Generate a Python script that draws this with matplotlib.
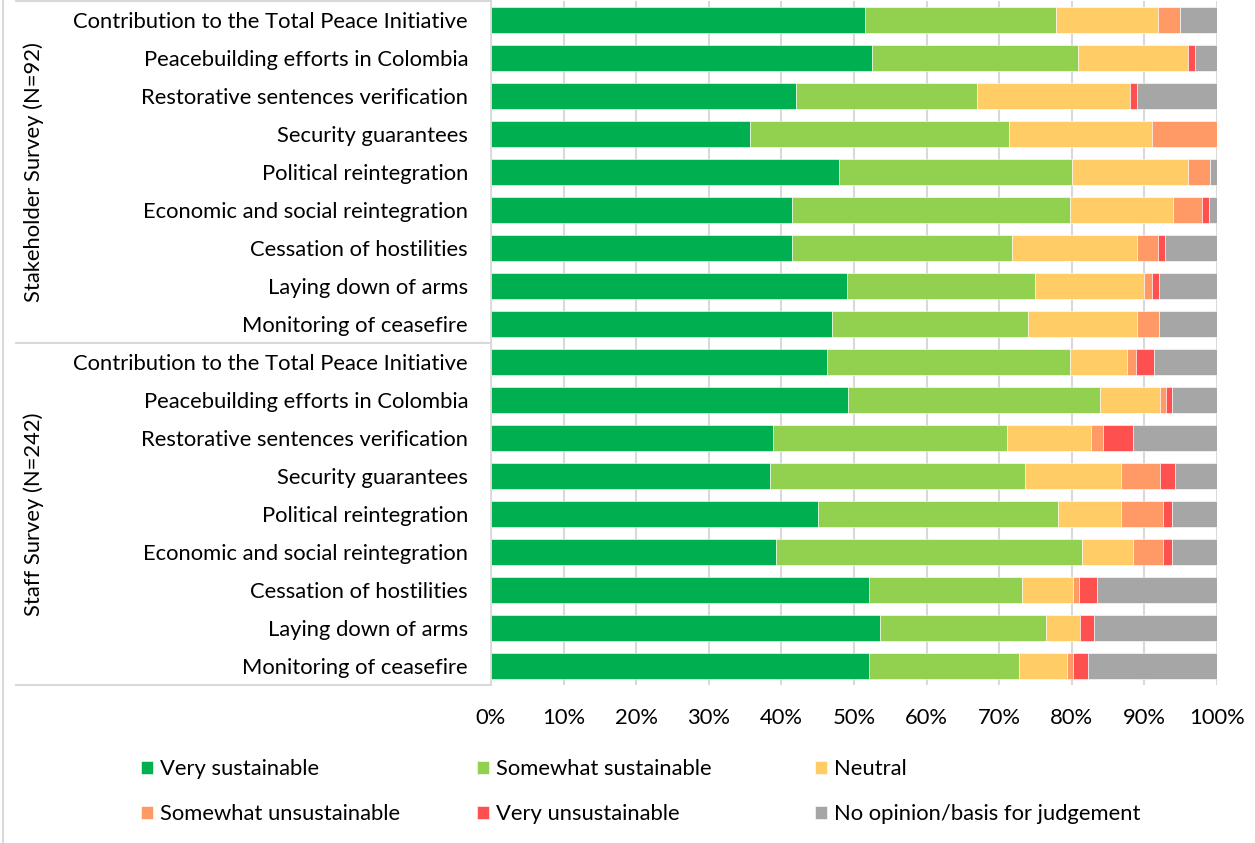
import matplotlib.pyplot as plt
import numpy as np
from matplotlib.lines import Line2D

plt.rcParams['font.family'] = ['Lato', 'DejaVu Sans']

# Categories (top to bottom within each group)
categories = [
    "Contribution to the Total Peace Initiative",
    "Peacebuilding efforts in Colombia",
    "Restorative sentences verification",
    "Security guarantees",
    "Political reintegration",
    "Economic and social reintegration",
    "Cessation of hostilities",
    "Laying down of arms",
    "Monitoring of ceasefire",
]
groups = ["Stakeholder Survey (N=92)", "Staff Survey (N=242)"]

levels = ["Very sustainable", "Somewhat sustainable", "Neutral",
          "Somewhat unsustainable", "Very unsustainable",
          "No opinion/basis for judgement"]
colors = ["#00B050", "#92D050", "#FFCC66", "#FF9966", "#FF5050", "#A6A6A6"]

# Stakeholder survey (%)
stake_very_sust = [51.5, 52.5, 42.0, 35.7, 48.0, 41.5, 41.5, 49.0, 47.0]
stake_smwt_sust = [26.3, 28.3, 25.0, 35.6, 32.0, 38.3, 30.3, 25.9, 27.0]
stake_neutral = [14.1, 15.2, 21.0, 19.8, 16.0, 14.1, 17.2, 15.1, 15.0]
stake_smwt_unsust = [3.0, 0.0, 0.0, 8.9, 3.0, 4.1, 2.9, 1.0, 3.0]
stake_very_unsust = [0.0, 1.0, 1.0, 0.0, 0.0, 0.9, 1.0, 1.0, 0.0]
stake_no_opinion = [5.1, 3.0, 11.0, 0.0, 1.0, 1.1, 7.1, 8.0, 8.0]

# Staff survey (%)
staff_very_sust = [46.3, 49.2, 38.8, 38.4, 45.0, 39.3, 52.1, 53.6, 52.1]
staff_smwt_sust = [33.5, 34.7, 32.3, 35.2, 33.1, 42.1, 21.0, 22.9, 20.6]
staff_neutral = [7.8, 8.2, 11.5, 13.2, 8.7, 7.0, 7.1, 4.6, 6.6]
staff_smwt_unsust = [1.2, 0.9, 1.7, 5.3, 5.8, 4.2, 0.8, 0.0, 0.9]
staff_very_unsust = [2.5, 0.8, 4.1, 2.1, 1.2, 1.2, 2.5, 2.0, 2.0]
staff_no_opinion = [8.7, 6.2, 11.6, 5.8, 6.2, 6.2, 16.5, 16.9, 17.8]

series = [
    stake_very_sust + staff_very_sust,
    stake_smwt_sust + staff_smwt_sust,
    stake_neutral + staff_neutral,
    stake_smwt_unsust + staff_smwt_unsust,
    stake_very_unsust + staff_very_unsust,
    stake_no_opinion + staff_no_opinion,
]

FS = 15.8

fig = plt.figure(figsize=(12.55, 8.43), dpi=100)
ax = fig.add_axes([491 / 1255, 1 - 685 / 843, 726 / 1255, 684 / 843])

y = np.arange(len(categories) * 2)
left = np.zeros(len(y))
bars = []
for vals, col, lab in zip(series, colors, levels):
    vals = np.array(vals)
    b = ax.barh(y, vals, left=left, height=0.66, color=col, label=lab,
                edgecolor="white", linewidth=0.4, zorder=3)
    bars.append(b)
    left += vals

ax.set_xlim(0, 100)
ax.set_ylim(17.5, -0.5)
ax.set_xticks(np.arange(0, 101, 10))
ax.set_xticklabels([f"{v}%" for v in range(0, 101, 10)], fontsize=FS)
ax.tick_params(axis="x", length=0, pad=16.5)
ax.set_yticks(y)
ax.set_yticklabels(categories * 2, fontsize=FS)
ax.tick_params(axis="y", length=0, pad=16.5)
ax.grid(axis="x", color="#D9D9D9", linewidth=1.5, zorder=0)
for s in ["top", "right", "bottom"]:
    ax.spines[s].set_visible(False)
ax.spines["left"].set_color("#D9D9D9")
ax.spines["left"].set_linewidth(1.2)

# group separators and group labels
tr = ax.get_yaxis_transform()
x0 = (16 - 491) / 726
for yy in [-0.5, 8.5, 17.5]:
    ax.add_line(Line2D([x0, 0], [yy, yy], transform=tr, color="#D9D9D9",
                       linewidth=1.5, clip_on=False))
for i, g in enumerate(groups):
    ax.text((34 - 491) / 726, 4 + 9 * i, g, transform=tr, rotation=90,
            ha="center", va="center", fontsize=FS)

# outer chart border on the left
fig.add_artist(Line2D([3 / 1255, 3 / 1255], [0, 1], transform=fig.transFigure,
                      color="#D9D9D9", linewidth=1.5))

# legend: three columns
col_x = [141, 477, 815]
for c in range(3):
    hs = [bars[c], bars[c + 3]]
    fig.legend(hs, [levels[c], levels[c + 3]], loc="upper left",
               bbox_to_anchor=(col_x[c] / 1255, 1 - 759 / 843),
               ncol=1, frameon=False, fontsize=FS, handlelength=0.55,
               handleheight=0.55, handletextpad=0.32, labelspacing=1.14,
               borderaxespad=0, borderpad=0)

fig.savefig("out.png", dpi=100)
